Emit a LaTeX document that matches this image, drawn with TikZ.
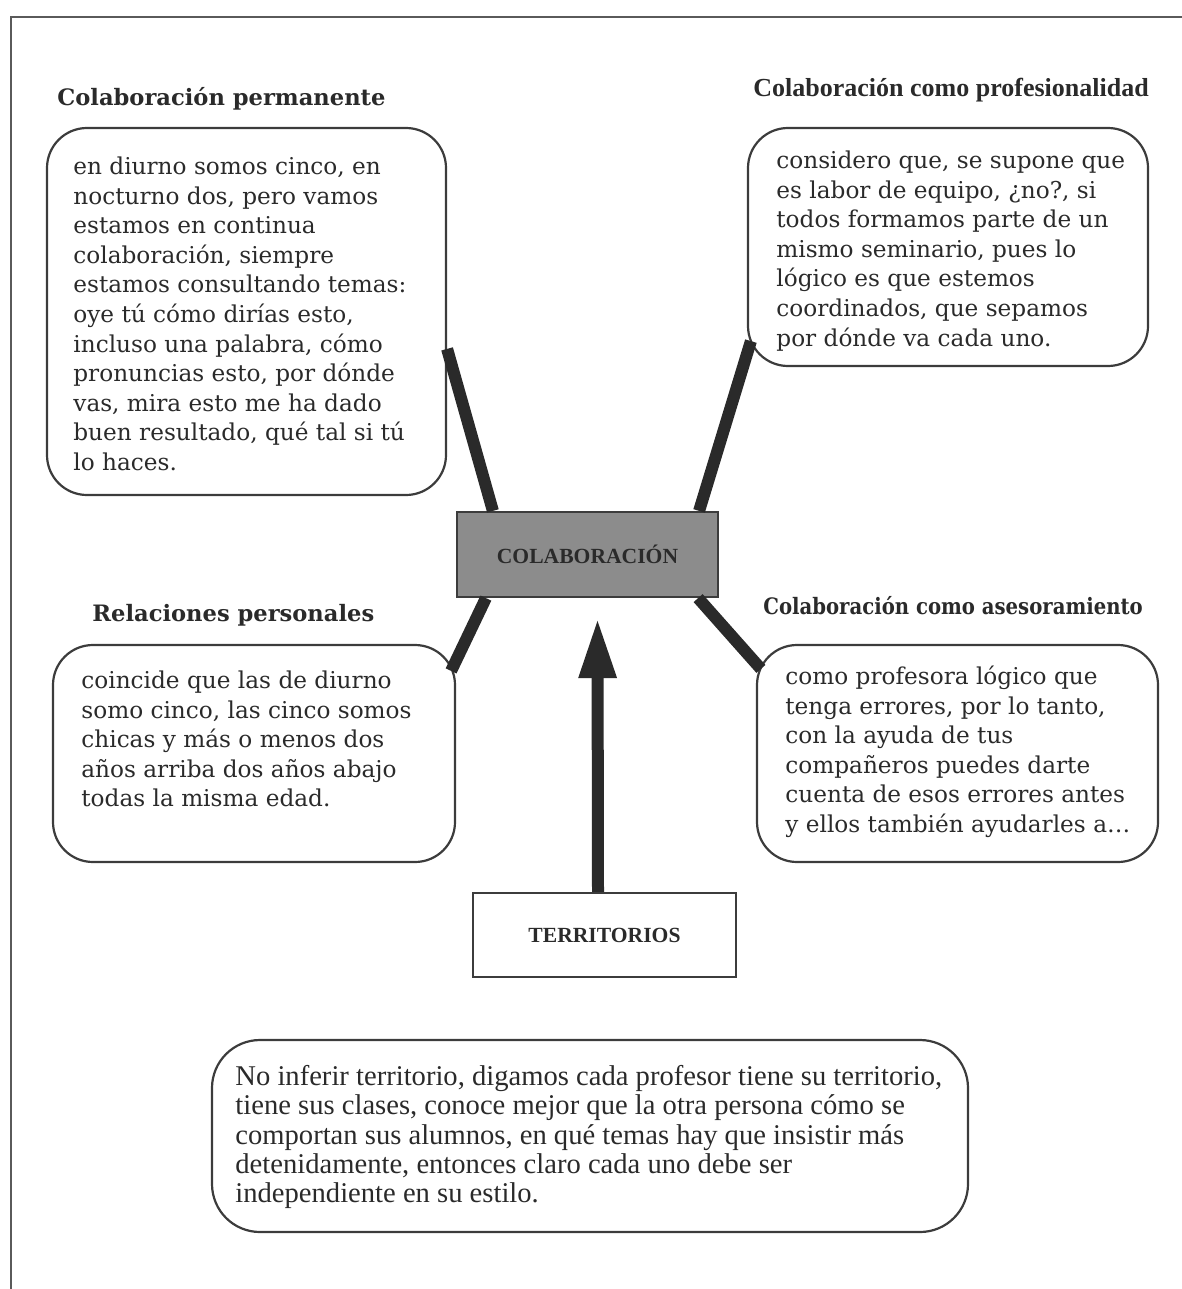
\documentclass[tikz,border=0pt]{standalone}
\usepackage{fontspec}
\setmainfont{DejaVu Serif}
\newfontfamily\libserif{Liberation Serif}
\newfontfamily\narrowserif[FakeStretch=0.87]{DejaVu Serif}
\usetikzlibrary{arrows.meta,calc}
\definecolor{ink}{HTML}{2A2A2A}
\definecolor{boxline}{HTML}{3C3C3C}
\definecolor{framecol}{HTML}{5A5A5A}
\definecolor{conn}{HTML}{2A2A2A}
\definecolor{colabfill}{HTML}{8C8C8C}
\begin{document}
\begin{tikzpicture}[x=0.5pt,y=-0.5pt,
  bubble/.style={draw=boxline,line width=1.1pt,rounded corners=20pt,inner sep=0pt},
  para/.style={anchor=north west,inner sep=0pt,align=left,text=ink,font=\fontsize{11.6}{14.8}\selectfont},
  head/.style={anchor=base west,inner sep=0pt,text=ink,font=\bfseries\fontsize{11.3}{13}\selectfont},
  link/.style={draw=conn,line width=6pt},
  keybox/.style={draw=boxline,line width=1.1pt,inner sep=0pt,text=ink,font=\libserif\bfseries\fontsize{10.8}{12}\selectfont}]
\useasboundingbox (0,0) rectangle (1182,1289);
% frame
\draw[framecol,line width=1.2pt] (11,1289) -- (11,17) -- (1182,17);

% boxes
\node[bubble,minimum width=199.5pt,minimum height=183.5pt] (tl) at (246.5,311.5) {};
\node[bubble,minimum width=200pt,minimum height=119pt] (tr) at (948,247) {};
\node[bubble,minimum width=201pt,minimum height=108.5pt] (bl) at (254,753.5) {};
\node[bubble,minimum width=200.5pt,minimum height=108.5pt] (br) at (957.5,753.5) {};
\node[bubble,rounded corners=24pt,minimum width=378pt,minimum height=96pt] (bot) at (590,1136) {};
\node[keybox,fill=colabfill,minimum width=130.5pt,minimum height=42.5pt] (colab) at (587.5,554.5) {COLABORACIÓN};
\node[keybox,fill=white,minimum width=131.5pt,minimum height=42pt] (terr) at (604.5,935) {TERRITORIOS};

% headings
\node[head] (h1) at (57,106) {Colaboración permanente};
\node[head,font=\libserif\bfseries\fontsize{13}{15}\selectfont] (h2) at (753,97) {Colaboración como profesionalidad};
\node[head] (h3) at (92,621) {Relaciones personales};
\node[head,font=\narrowserif\bfseries\fontsize{11.3}{13}\selectfont] (h4) at (763,614) {Colaboración como asesoramiento};

% texts
\node[para] (t1) at (73,150) {\rule{0pt}{12pt}en diurno somos cinco, en\\
nocturno dos, pero vamos\\
estamos en continua\\
colaboración, siempre\\
estamos consultando temas:\\
oye tú cómo dirías esto,\\
incluso una palabra, cómo\\
pronuncias esto, por dónde\\
vas, mira esto me ha dado\\
buen resultado, qué tal si tú\\
lo haces.};
\node[para] (t2) at (776,144) {\rule{0pt}{12pt}considero que, se supone que\\
es labor de equipo, ¿no?, si\\
todos formamos parte de un\\
mismo seminario, pues lo\\
lógico es que estemos\\
coordinados, que sepamos\\
por dónde va cada uno.};
\node[para] (t3) at (81,664) {\rule{0pt}{12pt}coincide que las de diurno\\
somo cinco, las cinco somos\\
chicas y más o menos dos\\
años arriba dos años abajo\\
todas la misma edad.};
\node[para] (t4) at (785,660) {\rule{0pt}{12pt}como profesora lógico que\\
tenga errores, por lo tanto,\\
con la ayuda de tus\\
compañeros puedes darte\\
cuenta de esos errores antes\\
y ellos también ayudarles a…};
\node[para,font=\libserif\fontsize{14.3}{14.65}\selectfont] (t5) at (235,1061) {\rule{0pt}{12pt}No inferir territorio, digamos cada profesor tiene su territorio,\\
tiene sus clases, conoce mejor que la otra persona cómo se\\
comportan sus alumnos, en qué temas hay que insistir más\\
detenidamente, entonces claro cada uno debe ser\\
independiente en su estilo.};

% connectors
\draw[link] ([yshift=-111pt]tl.north east) -- ([xshift=18.5pt]colab.north west);
\draw[link] ([xshift=2pt,yshift=13pt]tr.south west) -- ([xshift=-10pt]colab.north east);
\draw[link] ([xshift=15pt]colab.south west) -- ([xshift=-2.5pt,yshift=-13.5pt]bl.north east);
\draw[link] ([xshift=-10.5pt]colab.south east) -- ([xshift=2.5pt,yshift=-12.5pt]br.north west);
\draw[link,-{Triangle[width=17.5pt,length=30pt]}] ([xshift=-3.25pt]terr.north) -- ([xshift=5pt,yshift=-10pt]colab.south);
\end{tikzpicture}
\end{document}
